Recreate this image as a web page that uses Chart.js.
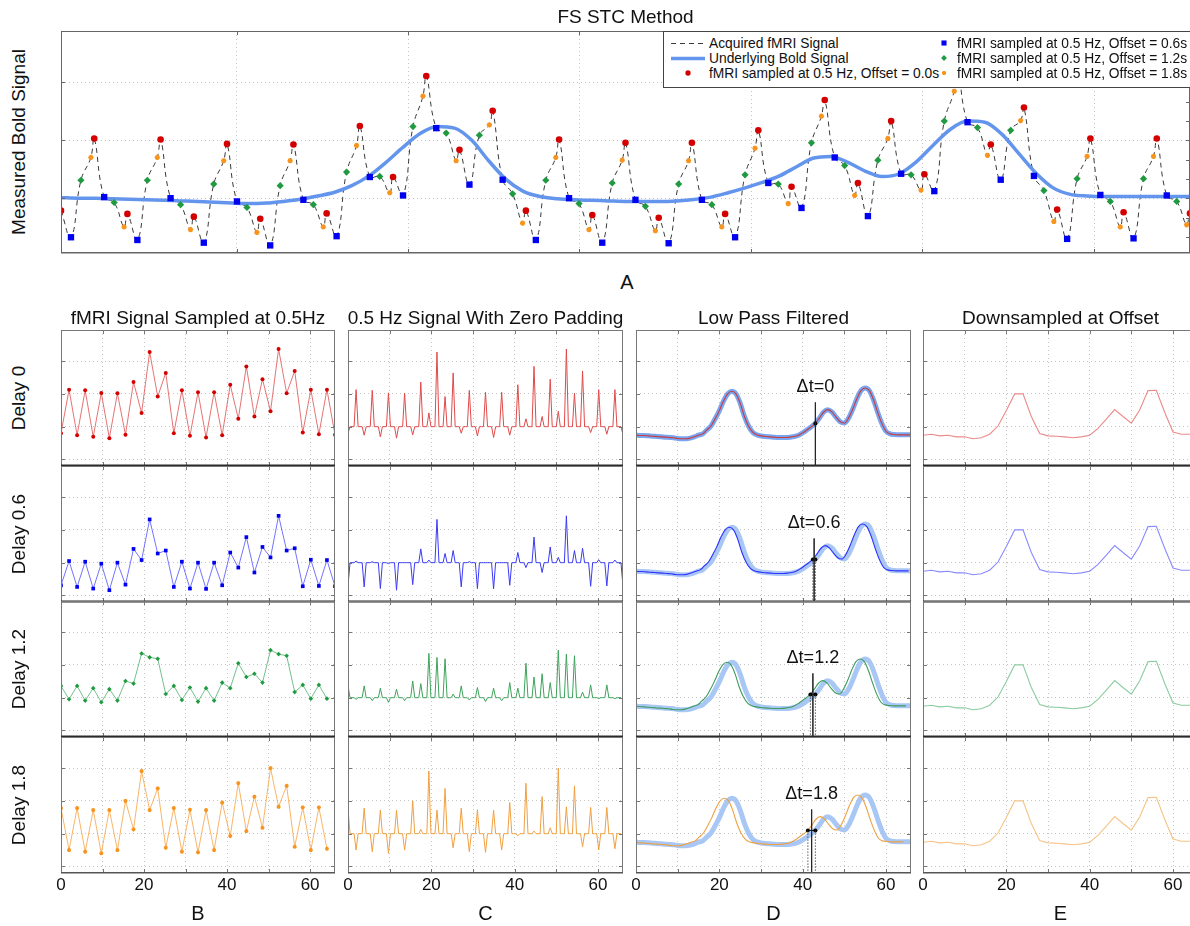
<!DOCTYPE html>
<html>
<head>
<meta charset="utf-8">
<title>FS STC Method</title>
<script src="https://cdn.jsdelivr.net/npm/chart.js@4.4.1/dist/chart.umd.min.js"></script>
<style>
  html, body { margin: 0; padding: 0; background: #fff; overflow: hidden; }
  body { position: relative; width: 1190px; height: 926px; font-family: "Liberation Sans", Arial, sans-serif; color: #111; }
  .panel { position: absolute; }
  .label { position: absolute; white-space: nowrap; transform: translate(-50%, -50%); }
  .vlabel { position: absolute; white-space: nowrap; transform: translate(-50%, -50%) rotate(-90deg); }
  #legend { position: absolute; left: 663px; top: 31px; width: 540px; height: 57px; border: 1px solid #444; background: #fff; box-sizing: border-box; font-size: 13.8px; z-index: 2; }
  #legend .item { position: absolute; white-space: nowrap; transform: translateY(-50%); }
  #legend canvas { position: absolute; }
</style>
</head>
<body>
<script>
// ---- data -------------------------------------------------------------

// one volume every 2 s, 35 volumes plotted over 0..66
const TR = 66 / 34;
const secPerSample = 2;
const offsets = [0, 0.6, 1.2, 1.8];

const delayLabels = ['Delay 0', 'Delay 0.6', 'Delay 1.2', 'Delay 1.8'];
const columnTitles = ['fMRI Signal Sampled at 0.5Hz', '0.5 Hz Signal With Zero Padding', 'Low Pass Filtered', 'Downsampled at Offset'];
const columnLetters = ['B', 'C', 'D', 'E'];
const xTickLabels = [0, 20, 40, 60];
const legendLabels = [
  'Acquired fMRI Signal',
  'Underlying Bold Signal',
  'fMRI sampled at 0.5 Hz, Offset = 0.0s',
  'fMRI sampled at 0.5 Hz, Offset = 0.6s',
  'fMRI sampled at 0.5 Hz, Offset = 1.2s',
  'fMRI sampled at 0.5 Hz, Offset = 1.8s'
];

// samples of the acquired signal, one list per acquisition offset
const sampledOffset00 = [-0.2, 1.13, -0.26, 1.11, -0.31, 1.03, -0.35, 1.02, -0.25, 1.36, 0.42, 2.28, 0.92, 1.64, -0.2, 1.11, -0.28, 1.05, -0.33, 1.05, -0.26, 1.28, 0.24, 1.84, 0.31, 1.45, 0.47, 2.37, 1.02, 1.7, -0.18, 1.13, -0.23, 1.13, -0.25];
const sampledOffset06 = [-0.69, 0.05, -0.74, 0.03, -0.79, -0.03, -0.84, 0.0, -0.67, 0.42, 0.08, 1.32, 0.28, 0.37, -0.74, 0.03, -0.79, 0.0, -0.8, 0.0, -0.69, 0.31, -0.15, 0.78, -0.3, 0.48, 0.16, 1.43, 0.37, 0.44, -0.72, 0.09, -0.71, 0.08, -0.72];
const sampledOffset12 = [0.36, -0.05, 0.36, -0.09, 0.29, -0.14, 0.26, -0.09, 0.51, 0.43, 1.35, 1.23, 1.19, 0.11, 0.36, -0.07, 0.31, -0.12, 0.29, -0.09, 0.46, 0.29, 1.05, 0.63, 0.73, 0.46, 1.45, 1.33, 1.28, 0.17, 0.39, -0.03, 0.39, -0.03];
const sampledOffset18 = [0.78, -0.5, 0.78, -0.55, 0.72, -0.6, 0.72, -0.5, 1.0, 0.13, 1.91, 0.72, 1.38, -0.43, 0.78, -0.55, 0.73, -0.57, 0.72, -0.5, 0.95, -0.07, 1.54, 0.08, 1.13, 0.18, 2.0, 0.82, 1.46, -0.4, 0.8, -0.5, 0.8, -0.46];

// underlying BOLD response, one value per time unit (top panel)
const boldSignal = [0.04, 0.03, 0.03, 0.02, 0.01, 0.0, -0.01, -0.02, -0.03, -0.045,
  -0.06, -0.07, -0.06, -0.03, 0.01, 0.07, 0.14, 0.26, 0.44, 0.69,
  0.97, 1.22, 1.35, 1.32, 1.1, 0.72, 0.38, 0.16, 0.06, 0.02,
  0.0, -0.01, -0.02, -0.03, -0.03, -0.03, -0.02, 0.005, 0.05, 0.13,
  0.22, 0.32, 0.44, 0.61, 0.77, 0.8, 0.69, 0.53, 0.43, 0.48,
  0.7, 1.01, 1.3, 1.45, 1.43, 1.21, 0.85, 0.49, 0.22, 0.1,
  0.07, 0.06, 0.06, 0.06, 0.06, 0.06, 0.06];

// low-pass filtered signal, one value per time unit
const filteredSignal = [-0.26, -0.27, -0.27, -0.28, -0.29, -0.3, -0.31, -0.32, -0.33, -0.34,
  -0.36, -0.37, -0.37, -0.35, -0.31, -0.26, -0.22, -0.1, 0.02, 0.24,
  0.49, 0.78, 1.0, 1.08, 1.0, 0.72, 0.32, 0.02, -0.17, -0.25,
  -0.28, -0.3, -0.31, -0.32, -0.33, -0.33, -0.33, -0.32, -0.3, -0.26,
  -0.19, -0.1, -0.01, 0.1, 0.26, 0.44, 0.52, 0.45, 0.29, 0.15,
  0.11, 0.26, 0.53, 0.85, 1.1, 1.18, 1.1, 0.82, 0.44, 0.1,
  -0.14, -0.22, -0.24, -0.25, -0.25, -0.25, -0.25];

// filtered signal taken every 2 time units
const downsampled = [-0.26, -0.23, -0.28, -0.26, -0.31, -0.31, -0.37, -0.34, -0.23, 0.02,
  0.49, 1.0, 1.0, 0.31, -0.21, -0.28, -0.29, -0.31, -0.34, -0.31,
  -0.26, -0.05, 0.23, 0.52, 0.31, 0.11, 0.51, 1.1, 1.11, 0.44,
  -0.16, -0.23, -0.23, -0.23];

// grid of the top panel
const aGridX = [10.26, 20.29, 30.31, 40.34, 50.36, 60.39];
const aGridY = [0.03, 1.1, 2.17];
const aRightTicks = [2.17, 1.81, 1.46, 1.1, 0.74, 0.39, 0.03, -0.33, -0.68];

// Δt marker: where the reference curve crosses the marker level
const deltaRef = 43.05;
const deltaLevel = 0.1;
const deltaTextY = 1.22;
const deltaLineTop = 0.74;

// ---- styles ------------------------------------------------------------

const sampleSeries = [sampledOffset00, sampledOffset06, sampledOffset12, sampledOffset18];
const markerStyle = ['circle', 'rect', 'rectRot', 'star'];
const markerColor = ['#d40000', '#0000f0', '#1f9a40', '#f7941d'];
const aMarkerRadius = [3.3, 4.5, 3.6, 2.6];
const bMarkerRadius = [2, 2.6, 2.3, 2];
const bLineColor = ['rgba(215,40,40,0.65)', 'rgba(40,40,255,0.65)', 'rgba(40,160,80,0.65)', 'rgba(245,150,40,0.7)'];
const cLineColor = ['#e04a4a', '#3a3af5', '#3da35a', '#f0a040'];
const dThinColor = ['#c83c3c', '#3030ff', '#3c9c5c', '#f0a040'];
const dThickColor = ['#7aa5f0', '#a9c7f5', '#a9c7f5', '#a9c7f5'];
const eLineColor = ['#eb8a8a', '#8a8aff', '#8ccca0', '#f5c488'];
const FONT = '"Liberation Sans", Arial, sans-serif';

Chart.defaults.font.family = FONT;
Chart.defaults.color = '#111';
Chart.defaults.elements.point.radius = 0;
Chart.defaults.elements.line.tension = 0;
Chart.defaults.plugins.legend.display = false;
Chart.defaults.plugins.tooltip.enabled = false;

// ---- plugins -----------------------------------------------------------

// axes frame with inward tick marks
const framePlugin = {
  id: 'frame',
  afterDatasetsDraw(chart, args, o) {
    const { ctx, chartArea: a, scales } = chart;
    const len = 4;
    ctx.save();
    ctx.strokeStyle = o.color || '#666';
    ctx.lineWidth = 1;
    ctx.strokeRect(a.left + 0.5, a.top + 0.5, a.right - a.left - 1, a.bottom - a.top - 1);
    ctx.beginPath();
    scales.x.ticks.forEach(t => {
      const px = Math.round(scales.x.getPixelForValue(t.value)) + 0.5;
      ctx.moveTo(px, a.bottom); ctx.lineTo(px, a.bottom - len);
      ctx.moveTo(px, a.top); ctx.lineTo(px, a.top + len);
    });
    scales.y.ticks.forEach(t => {
      const py = Math.round(scales.y.getPixelForValue(t.value)) + 0.5;
      ctx.moveTo(a.left, py); ctx.lineTo(a.left + len, py);
      if (!o.rightTicks) { ctx.moveTo(a.right, py); ctx.lineTo(a.right - len, py); }
    });
    (o.rightTicks || []).forEach(v => {
      const py = Math.round(scales.y.getPixelForValue(v)) + 0.5;
      ctx.moveTo(a.right, py); ctx.lineTo(a.right - len, py);
    });
    ctx.stroke();
    if (o.bottomWidth) {
      ctx.strokeStyle = o.bottomColor;
      ctx.lineWidth = o.bottomWidth;
      ctx.beginPath();
      ctx.moveTo(a.left, a.bottom - o.bottomWidth / 2 + 0.5);
      ctx.lineTo(a.right, a.bottom - o.bottomWidth / 2 + 0.5);
      ctx.stroke();
    }
    ctx.restore();
  }
};

// "Δt=..." text of the low pass panels
const deltaPlugin = {
  id: 'deltaText',
  afterDatasetsDraw(chart, args, o) {
    if (!o.text) return;
    const { ctx, scales: { x, y } } = chart;
    ctx.save();
    ctx.font = '18px ' + FONT;
    ctx.fillStyle = '#111';
    ctx.textAlign = 'center';
    ctx.textBaseline = 'middle';
    ctx.fillText(o.text, x.getPixelForValue(o.x), y.getPixelForValue(o.y));
    ctx.restore();
  }
};

// ---- helpers -----------------------------------------------------------

const PAD = 16;
const TICK_PAD = 2;
const TICK_LINE = 20;

function addChart(x, y, w, h, config, withAxis) {
  const div = document.createElement('div');
  div.className = 'panel';
  div.style.left = (x - PAD) + 'px';
  div.style.top = (y - PAD) + 'px';
  const cv = document.createElement('canvas');
  cv.width = w + 2 * PAD;
  cv.height = h + 2 * PAD + (withAxis ? TICK_LINE + 2 * TICK_PAD : 0);
  div.appendChild(cv);
  document.body.appendChild(div);
  config.options = Object.assign({
    responsive: false, animation: false, devicePixelRatio: 1, events: [],
    layout: { padding: PAD }
  }, config.options);
  config.plugins = [framePlugin, deltaPlugin];
  return new Chart(cv, config);
}

function addText(cls, text, x, y, size) {
  const el = document.createElement('div');
  el.className = cls;
  el.textContent = text;
  el.style.left = x + 'px';
  el.style.top = y + 'px';
  el.style.fontSize = size + 'px';
  document.body.appendChild(el);
}

const gridBorder = { display: false, dash: [1, 3] };
const gridLines = () => ({ color: '#c4c4c4', lineWidth: 1, drawTicks: false });

function smallScales(showX) {
  return {
    x: {
      type: 'linear', min: 0, max: 66, grid: gridLines(), border: gridBorder,
      ticks: {
        display: showX, stepSize: 10, includeBounds: false, autoSkip: false, maxRotation: 0,
        padding: TICK_PAD, color: '#111', font: { size: 17, lineHeight: TICK_LINE + 'px' },
        callback: v => xTickLabels.includes(v) ? String(v) : ''
      }
    },
    y: {
      type: 'linear', min: -1.2, max: 2.95, grid: gridLines(), border: gridBorder,
      ticks: { display: false, stepSize: 1, includeBounds: false }
    }
  };
}

const atTime = (series, step, shift = 0) => series.map((v, i) => ({ x: i * step - shift, y: v }));

function zeroPadded(series) {
  const pts = [];
  series.forEach((v, i) => {
    pts.push({ x: i * TR, y: v });
    for (let z = 1; z < 4; z++) pts.push({ x: (i + z / 4) * TR, y: 0 });
  });
  return pts;
}

// ---- top panel ---------------------------------------------------------

// the acquired trace runs through all four sample sets in time order
const acquired = sampleSeries
  .flatMap((s, k) => s.map((v, i) => ({ x: (i + offsets[k] / secPerSample) * TR, y: v })))
  .sort((a, b) => a.x - b.x);

const aDatasets = sampleSeries.map((s, k) => ({
  label: legendLabels[2 + k],
  data: s.map((v, i) => ({ x: (i + offsets[k] / secPerSample) * TR, y: v })),
  showLine: false,
  pointStyle: markerStyle[k],
  pointRadius: aMarkerRadius[k],
  pointBackgroundColor: markerColor[k],
  pointBorderColor: markerColor[k],
  pointBorderWidth: k === 3 ? 1.6 : 0,
  order: k, clip: 0
}));
aDatasets.push({
  label: legendLabels[1], data: atTime(boldSignal, 1),
  borderColor: '#6495ed', borderWidth: 3.5, cubicInterpolationMode: 'monotone', order: 4, clip: 0
});
aDatasets.push({
  label: legendLabels[0], data: acquired,
  borderColor: '#3a3a3a', borderWidth: 1, borderDash: [5, 4], tension: 0.45, order: 5, clip: 0
});

const topChart = addChart(61, 31, 1129, 222, {
  type: 'line',
  data: { datasets: aDatasets },
  options: {
    scales: {
      x: {
        type: 'linear', min: 0, max: 66, grid: gridLines(), border: gridBorder,
        ticks: { display: false },
        afterBuildTicks: s => { s.ticks = aGridX.map(v => ({ value: v })); }
      },
      y: {
        type: 'linear', min: -0.98, max: 3.11, grid: gridLines(), border: gridBorder,
        ticks: { display: false },
        afterBuildTicks: s => { s.ticks = aGridY.map(v => ({ value: v })); }
      }
    },
    plugins: { frame: { color: '#666', rightTicks: aRightTicks, bottomColor: '#666', bottomWidth: 1.5 } }
  }
}, false);

addText('label', 'FS STC Method', 625.5, 17, 19);
addText('vlabel', 'Measured Bold Signal', 19, 142, 19);
addText('label', 'A', 627, 282, 20);

// legend of the top panel, built from its datasets
(function buildLegend() {
  const box = document.createElement('div');
  box.id = 'legend';
  document.body.appendChild(box);
  const rowsY = [11, 26, 41];
  const ds = topChart.data.datasets;
  const entries = [
    { ds: ds[5], col: 0, row: 0, kind: 'line' },
    { ds: ds[4], col: 0, row: 1, kind: 'line' },
    { ds: ds[0], col: 0, row: 2, kind: 'point' },
    { ds: ds[1], col: 1, row: 0, kind: 'point' },
    { ds: ds[2], col: 1, row: 1, kind: 'point' },
    { ds: ds[3], col: 1, row: 2, kind: 'point' }
  ];
  const symX = [24, 280];
  const textX = [45, 293];
  entries.forEach(e => {
    const cv = document.createElement('canvas');
    cv.width = 40; cv.height = 14;
    cv.style.left = (symX[e.col] - 20) + 'px';
    cv.style.top = (rowsY[e.row] - 7) + 'px';
    box.appendChild(cv);
    const ctx = cv.getContext('2d');
    if (e.kind === 'line') {
      ctx.strokeStyle = e.ds.borderColor;
      ctx.lineWidth = e.ds.borderWidth;
      ctx.setLineDash(e.ds.borderDash || []);
      ctx.beginPath(); ctx.moveTo(3, 7.5); ctx.lineTo(37, 7.5); ctx.stroke();
    } else if (Chart.helpers && Chart.helpers.drawPoint) {
      ctx.fillStyle = e.ds.pointBackgroundColor;
      ctx.strokeStyle = e.ds.pointBorderColor;
      ctx.lineWidth = e.ds.pointBorderWidth;
      Chart.helpers.drawPoint(ctx, {
        pointStyle: e.ds.pointStyle, radius: e.ds.pointRadius * 0.8,
        borderWidth: e.ds.pointBorderWidth, rotation: 0
      }, 20, 7);
    }
    const t = document.createElement('div');
    t.className = 'item';
    t.textContent = e.ds.label;
    t.style.left = textX[e.col] + 'px';
    t.style.top = rowsY[e.row] + 'px';
    box.appendChild(t);
  });
})();

// ---- grid of small panels ---------------------------------------------

const colX = [61, 348, 636, 923];
const colW = [274, 275, 275, 275];
const rowY = [330, 466, 601, 737];
const rowH = 136;
const yMin = -1.2;

function frameOpts(k) {
  return k < 3 ? { color: '#777', bottomColor: '#2a2a2a', bottomWidth: 2 }
               : { color: '#777', bottomColor: '#555', bottomWidth: 1.5 };
}

function deltaDatasets(k) {
  const d = offsets[k];
  const mid = deltaRef - d / 2;
  const sets = [{
    data: [{ x: mid, y: deltaLineTop }, { x: mid, y: yMin }],
    borderColor: '#222', borderWidth: 0.8, clip: 0
  }];
  if (d === 0) {
    sets.push({
      data: [{ x: deltaRef, y: deltaLevel }], showLine: false,
      pointRadius: 2, pointBackgroundColor: '#000', pointBorderWidth: 0, clip: 0
    });
  } else {
    [deltaRef - d, deltaRef].forEach(xv => sets.push({
      data: [{ x: xv, y: deltaLevel }, { x: xv, y: yMin }],
      borderColor: '#333', borderWidth: 0.8, borderDash: [1.5, 1.5], clip: 0
    }));
    sets.push({
      data: [{ x: deltaRef - d, y: deltaLevel }, { x: deltaRef, y: deltaLevel }],
      borderColor: '#000', borderWidth: 1, pointRadius: 2,
      pointBackgroundColor: '#000', pointBorderWidth: 0, clip: 0
    });
  }
  return sets;
}

delayLabels.forEach((rowLabel, k) => {
  const last = k === delayLabels.length - 1;
  const series = sampleSeries[k];

  // B: samples at 0.5 Hz
  addChart(colX[0], rowY[k], colW[0], rowH, {
    type: 'line',
    data: { datasets: [{
      data: atTime(series, TR), borderColor: bLineColor[k], borderWidth: 1,
      pointStyle: markerStyle[k], pointRadius: bMarkerRadius[k],
      pointBackgroundColor: markerColor[k], pointBorderColor: markerColor[k],
      pointBorderWidth: k === 3 ? 1.2 : 0, clip: 0
    }] },
    options: { scales: smallScales(last), plugins: { frame: frameOpts(k) } }
  }, last);

  // C: zero padded
  addChart(colX[1], rowY[k], colW[1], rowH, {
    type: 'line',
    data: { datasets: [{ data: zeroPadded(series), borderColor: cLineColor[k], borderWidth: 1, clip: 0 }] },
    options: { scales: smallScales(last), plugins: { frame: frameOpts(k) } }
  }, last);

  // D: low pass filtered, reference vs shifted
  addChart(colX[2], rowY[k], colW[2], rowH, {
    type: 'line',
    data: { datasets: [
      ...deltaDatasets(k),
      { data: atTime(filteredSignal, 1, offsets[k]), borderColor: dThinColor[k], borderWidth: 1.1,
        cubicInterpolationMode: 'monotone', clip: 0 },
      { data: atTime(filteredSignal, 1), borderColor: dThickColor[k], borderWidth: 5,
        cubicInterpolationMode: 'monotone', clip: 0 }
    ] },
    options: {
      scales: smallScales(last),
      plugins: {
        frame: frameOpts(k),
        deltaText: { text: 'Δt=' + offsets[k], x: deltaRef - offsets[k] / 2, y: deltaTextY }
      }
    }
  }, last);

  // E: downsampled at the offset
  addChart(colX[3], rowY[k], colW[3], rowH, {
    type: 'line',
    data: { datasets: [{ data: atTime(downsampled, 2), borderColor: eLineColor[k], borderWidth: 1.1, clip: 0 }] },
    options: { scales: smallScales(last), plugins: { frame: frameOpts(k) } }
  }, last);

  addText('vlabel', rowLabel, 19, rowY[k] + rowH / 2, 19);
});

columnTitles.forEach((t, c) => {
  addText('label', t, colX[c] + colW[c] / 2, 318, 19);
  addText('label', columnLetters[c], colX[c] + colW[c] / 2, 913, 20);
});
</script>
</body>
</html>
